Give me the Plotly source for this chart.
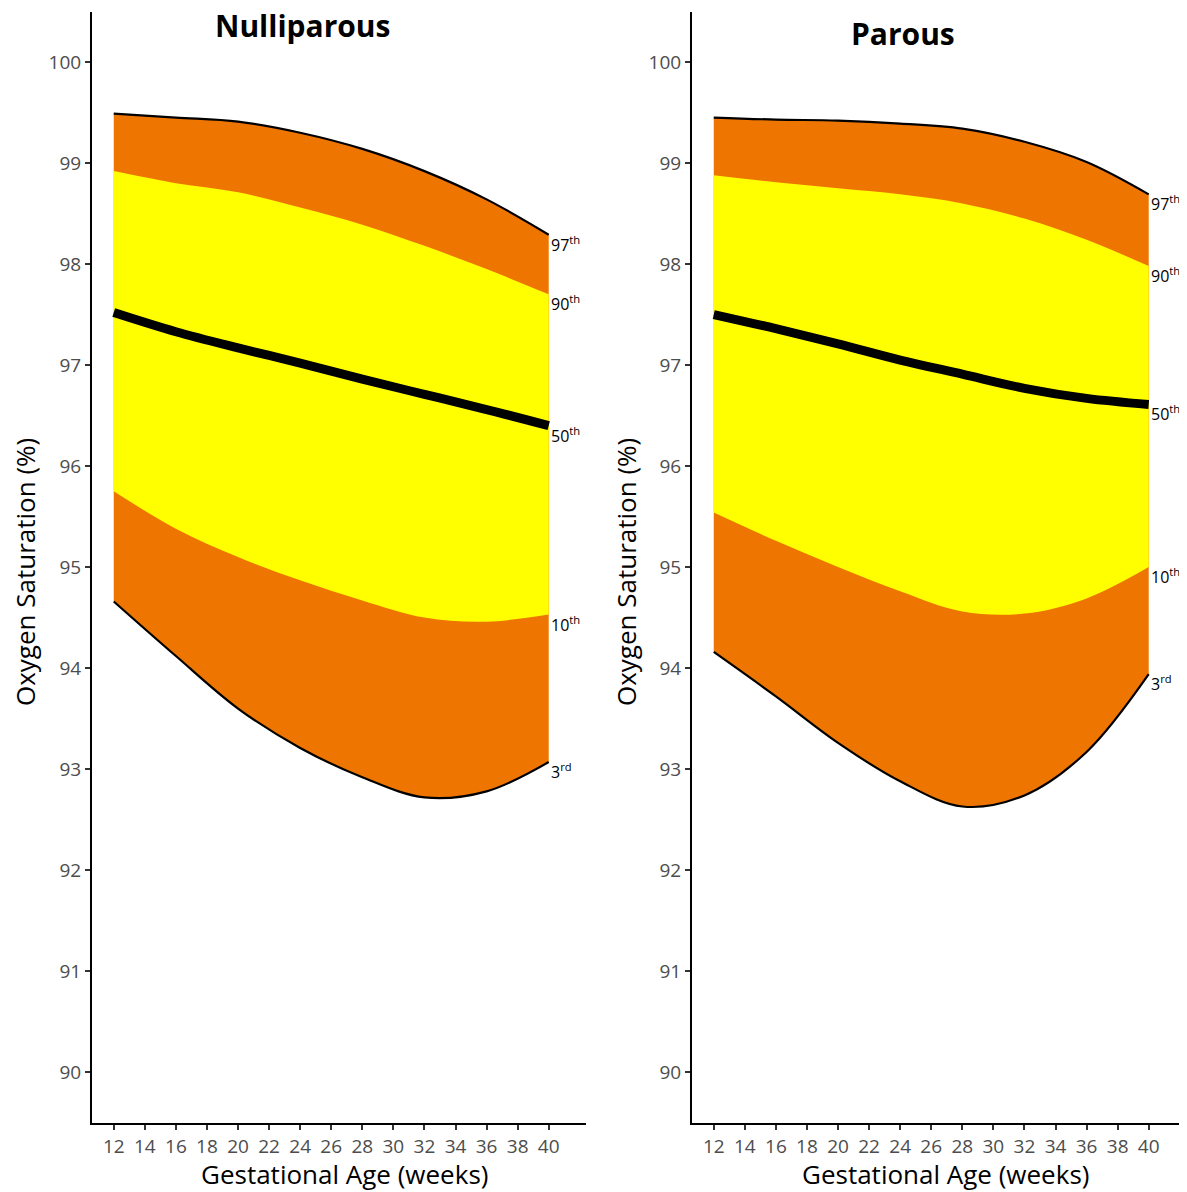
import plotly.graph_objects as go

weeks = [12, 16, 20, 24, 28, 32, 36, 40]

# Nulliparous percentiles
nul_p97 = [99.49, 99.45, 99.41, 99.30, 99.14, 98.92, 98.64, 98.29]
nul_p90 = [98.92, 98.80, 98.71, 98.56, 98.39, 98.18, 97.95, 97.70]
nul_p50 = [97.52, 97.33, 97.17, 97.02, 96.86, 96.71, 96.56, 96.40]
nul_p10 = [95.75, 95.38, 95.10, 94.87, 94.67, 94.50, 94.46, 94.53]
nul_p3 = [94.66, 94.12, 93.60, 93.21, 92.92, 92.72, 92.78, 93.07]

# Parous percentiles
par_p97 = [99.45, 99.43, 99.42, 99.39, 99.34, 99.21, 99.01, 98.69]
par_p90 = [98.88, 98.81, 98.75, 98.69, 98.60, 98.45, 98.24, 97.98]
par_p50 = [97.50, 97.36, 97.21, 97.05, 96.91, 96.77, 96.67, 96.61]
par_p10 = [95.54, 95.26, 95.00, 94.76, 94.56, 94.54, 94.69, 95.00]
par_p3 = [94.16, 93.72, 93.26, 92.88, 92.63, 92.74, 93.17, 93.94]

x_ticks = list(range(12, 41, 2))
y_ticks = list(range(90, 101))
pct_labels = ["97<sup>th</sup>", "90<sup>th</sup>", "50<sup>th</sup>", "10<sup>th</sup>", "3<sup>rd</sup>"]
titles = ["Nulliparous", "Parous"]

ORANGE = "#EE7600"
YELLOW = "#FFFF00"
FONT = "Open Sans"

# page body has an 8px margin; work in page pixels and shift
OFF = 8
W, H = 1187 - OFF, 1192 - OFF


def px(xp):
    return (xp - OFF) / W


def py(yp):
    return (H - (yp - OFF)) / H


fig = go.Figure()

panels = [
    ("x", "y", nul_p97, nul_p90, nul_p50, nul_p10, nul_p3),
    ("x2", "y2", par_p97, par_p90, par_p50, par_p10, par_p3),
]

for xa, ya, p97, p90, p50, p10, p3 in panels:
    kw = dict(xaxis=xa, yaxis=ya, mode="lines", hoverinfo="skip", showlegend=False)
    fig.add_trace(go.Scatter(x=weeks, y=p3, line=dict(color="rgba(0,0,0,0)", width=0, shape="spline"), **kw))
    fig.add_trace(go.Scatter(x=weeks, y=p97, fill="tonexty", fillcolor=ORANGE,
                             line=dict(color="rgba(0,0,0,0)", width=0, shape="spline"), **kw))
    fig.add_trace(go.Scatter(x=weeks, y=p10, line=dict(color="rgba(0,0,0,0)", width=0, shape="spline"), **kw))
    fig.add_trace(go.Scatter(x=weeks, y=p90, fill="tonexty", fillcolor=YELLOW,
                             line=dict(color="rgba(0,0,0,0)", width=0, shape="spline"), **kw))
    fig.add_trace(go.Scatter(x=weeks, y=p97, line=dict(color="black", width=2.2, shape="spline"), **kw))
    fig.add_trace(go.Scatter(x=weeks, y=p3, line=dict(color="black", width=2.2, shape="spline"), **kw))
    fig.add_trace(go.Scatter(x=weeks, y=p50, line=dict(color="black", width=9, shape="spline"), **kw))

    for lab, series in zip(pct_labels, [p97, p90, p50, p10, p3]):
        fig.add_annotation(x=weeks[-1], y=series[-1], xref=xa, yref=ya, text=lab,
                           showarrow=False, xanchor="left", yanchor="top", xshift=0, yshift=5,
                           font=dict(family=FONT, size=16, color="black"))

ydom = [py(1122.7), py(11.5)]
axis_common = dict(showline=True, linecolor="black", linewidth=2, ticks="outside", ticklen=5,
                   tickwidth=2, tickcolor="#333333", showgrid=False, zeroline=False,
                   tickfont=dict(family=FONT, size=19, color="#4D4D4D"), mirror=False)

fig.update_layout(
    width=W, height=H, margin=dict(l=0, r=0, t=0, b=0),
    plot_bgcolor="white", paper_bgcolor="white",
    xaxis=dict(domain=[px(92), px(586)], range=[10.6, 42.4], tickvals=x_ticks, anchor="y", **axis_common),
    yaxis=dict(domain=ydom, range=[89.5, 100.5], tickvals=y_ticks, anchor="x", **axis_common),
    xaxis2=dict(domain=[px(692), min(1.0, px(1186))], range=[10.6, 42.4], tickvals=x_ticks, anchor="y2",
                **axis_common),
    yaxis2=dict(domain=ydom, range=[89.5, 100.5], tickvals=y_ticks, anchor="x2", **axis_common),
)

for cx, cy, t in [(303, 25, titles[0]), (903, 34, titles[1])]:
    fig.add_annotation(x=px(cx), y=py(cy), xref="paper", yref="paper", text="<b>" + t + "</b>",
                       showarrow=False, xanchor="center", yanchor="middle", borderpad=0,
                       font=dict(family=FONT, size=30, color="black"))

for cx in [344, 945]:
    fig.add_annotation(x=px(cx), y=py(1174), xref="paper", yref="paper", text="Gestational Age (weeks)",
                       showarrow=False, xanchor="center", yanchor="middle", borderpad=0,
                       font=dict(family=FONT, size=26, color="black"))
for cx in [25, 626]:
    fig.add_annotation(x=px(cx), y=py(572), xref="paper", yref="paper", text="Oxygen Saturation (%)",
                       showarrow=False, xanchor="center", yanchor="middle", textangle=-90,
                       font=dict(family=FONT, size=26, color="black"))

fig.write_html("out.html")
